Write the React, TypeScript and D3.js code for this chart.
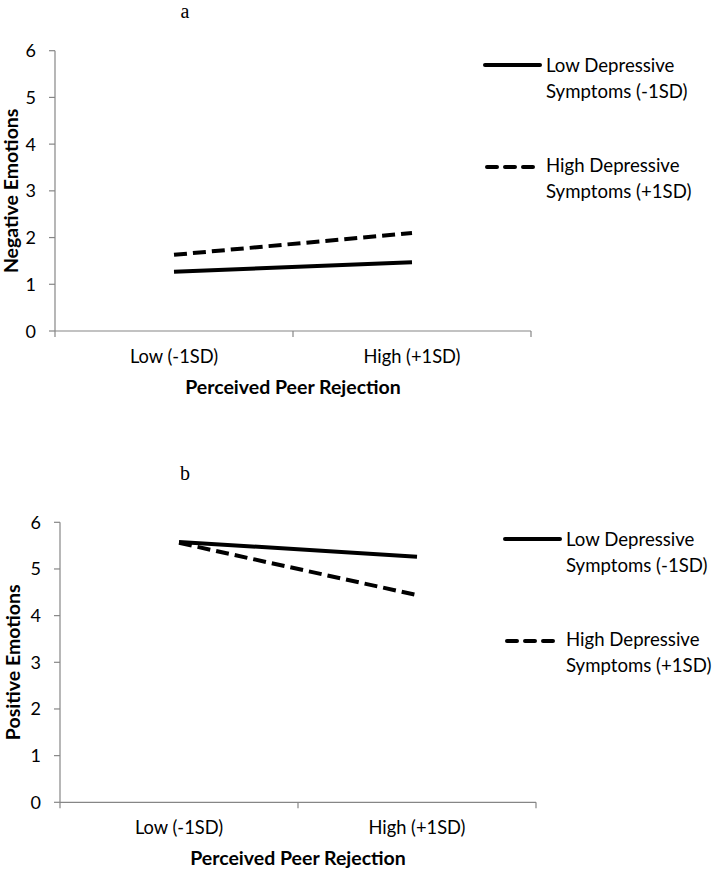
import React from "react";
import * as d3 from "d3";

const categories = ["Low (-1SD)", "High (+1SD)"];
const yTicks = [0, 1, 2, 3, 4, 5, 6];
const negLowDep = [1.27, 1.47];
const negHighDep = [1.63, 2.1];
const posLowDep = [5.58, 5.26];
const posHighDep = [5.56, 4.44];
const seriesNames = [
  ["Low Depressive", "Symptoms (-1SD)"],
  ["High Depressive", "Symptoms (+1SD)"],
];

const FONT = "Lato, 'Open Sans', sans-serif";
const AXIS = "#868686";

type PanelProps = {
  title: string;
  yTitle: string;
  low: number[];
  high: number[];
  left: number;
  right: number;
  top: number;
  bottom: number;
  titleY: number;
  yTitleX: number;
  legendX: number;
  legendY: number;
};

function Panel(p: PanelProps) {
  const x = d3.scaleBand<string>().domain(categories).range([p.left, p.right]).padding(0);
  const y = d3.scaleLinear().domain([0, 6]).range([p.bottom, p.top]);
  const line = d3
    .line<number>()
    .x((_, i) => (x(categories[i]) as number) + x.bandwidth() / 2)
    .y((d) => y(d));
  const boundaries = [p.left, ...categories.map((c) => (x(c) as number) + x.bandwidth())];
  const mid = (p.left + p.right) / 2;
  return (
    <g>
      <text x={185} y={p.titleY} textAnchor="middle" fontFamily="'Liberation Serif', serif" fontSize={20}>
        {p.title}
      </text>
      <line x1={p.left} x2={p.left} y1={p.top} y2={p.bottom} stroke={AXIS} strokeWidth={1.2} />
      <line x1={p.left} x2={p.right} y1={p.bottom} y2={p.bottom} stroke={AXIS} strokeWidth={1.2} />
      {yTicks.map((t) => (
        <g key={t}>
          <line x1={p.left - 6} x2={p.left} y1={y(t)} y2={y(t)} stroke={AXIS} strokeWidth={1.2} />
          <text x={p.left - 19} y={y(t) + 6.5} textAnchor="end" fontFamily={FONT} fontSize={18} fill="#000">
            {t}
          </text>
        </g>
      ))}
      {boundaries.map((b, i) => (
        <line key={i} x1={b} x2={b} y1={p.bottom} y2={p.bottom + 6} stroke={AXIS} strokeWidth={1.2} />
      ))}
      {categories.map((c) => (
        <text
          key={c}
          x={(x(c) as number) + x.bandwidth() / 2}
          y={p.bottom + 32}
          textAnchor="middle"
          fontFamily={FONT}
          fontSize={18.3}
        >
          {c}
        </text>
      ))}
      <text x={mid} y={p.bottom + 63} textAnchor="middle" fontFamily={FONT} fontWeight="bold" fontSize={19.5}>
        Perceived Peer Rejection
      </text>
      <text
        transform={`translate(${p.yTitleX},${(p.top + p.bottom) / 2}) rotate(-90)`}
        textAnchor="middle"
        fontFamily={FONT}
        fontWeight="bold"
        fontSize={19.5}
      >
        {p.yTitle}
      </text>
      <path d={line(p.low) as string} fill="none" stroke="#000" strokeWidth={4} />
      <path d={line(p.high) as string} fill="none" stroke="#000" strokeWidth={4} strokeDasharray="13,6" />
      {/* legend */}
      <line x1={p.legendX} x2={p.legendX + 55} y1={p.legendY} y2={p.legendY} stroke="#000" strokeWidth={4} strokeLinecap="round" />
      <line
        x1={p.legendX + 2}
        x2={p.legendX + 55}
        y1={p.legendY + 102}
        y2={p.legendY + 102}
        stroke="#000"
        strokeWidth={4}
        strokeLinecap="round"
        strokeDasharray="10,8"
      />
      {seriesNames.map((lines, si) =>
        lines.map((t, li) => (
          <text
            key={`${si}-${li}`}
            x={p.legendX + 61}
            y={p.legendY + 7 + si * 100 + li * 26}
            fontFamily={FONT}
            fontSize={18.6}
          >
            {t}
          </text>
        ))
      )}
    </g>
  );
}

export default function App() {
  return (
    <svg
      width={713}
      height={871}
      style={{ position: "absolute", left: 0, top: 0, background: "#fff" }}
    >
      <rect width={713} height={871} fill="#fff" />
      <Panel
        title="a"
        yTitle="Negative Emotions"
        low={negLowDep}
        high={negHighDep}
        left={55}
        right={531}
        top={50.7}
        bottom={331}
        titleY={18}
        yTitleX={18}
        legendX={485}
        legendY={65}
      />
      <Panel
        title="b"
        yTitle="Positive Emotions"
        low={posLowDep}
        high={posHighDep}
        left={60}
        right={536}
        top={522.3}
        bottom={802.3}
        titleY={480}
        yTitleX={20}
        legendX={505}
        legendY={539}
      />
    </svg>
  );
}
